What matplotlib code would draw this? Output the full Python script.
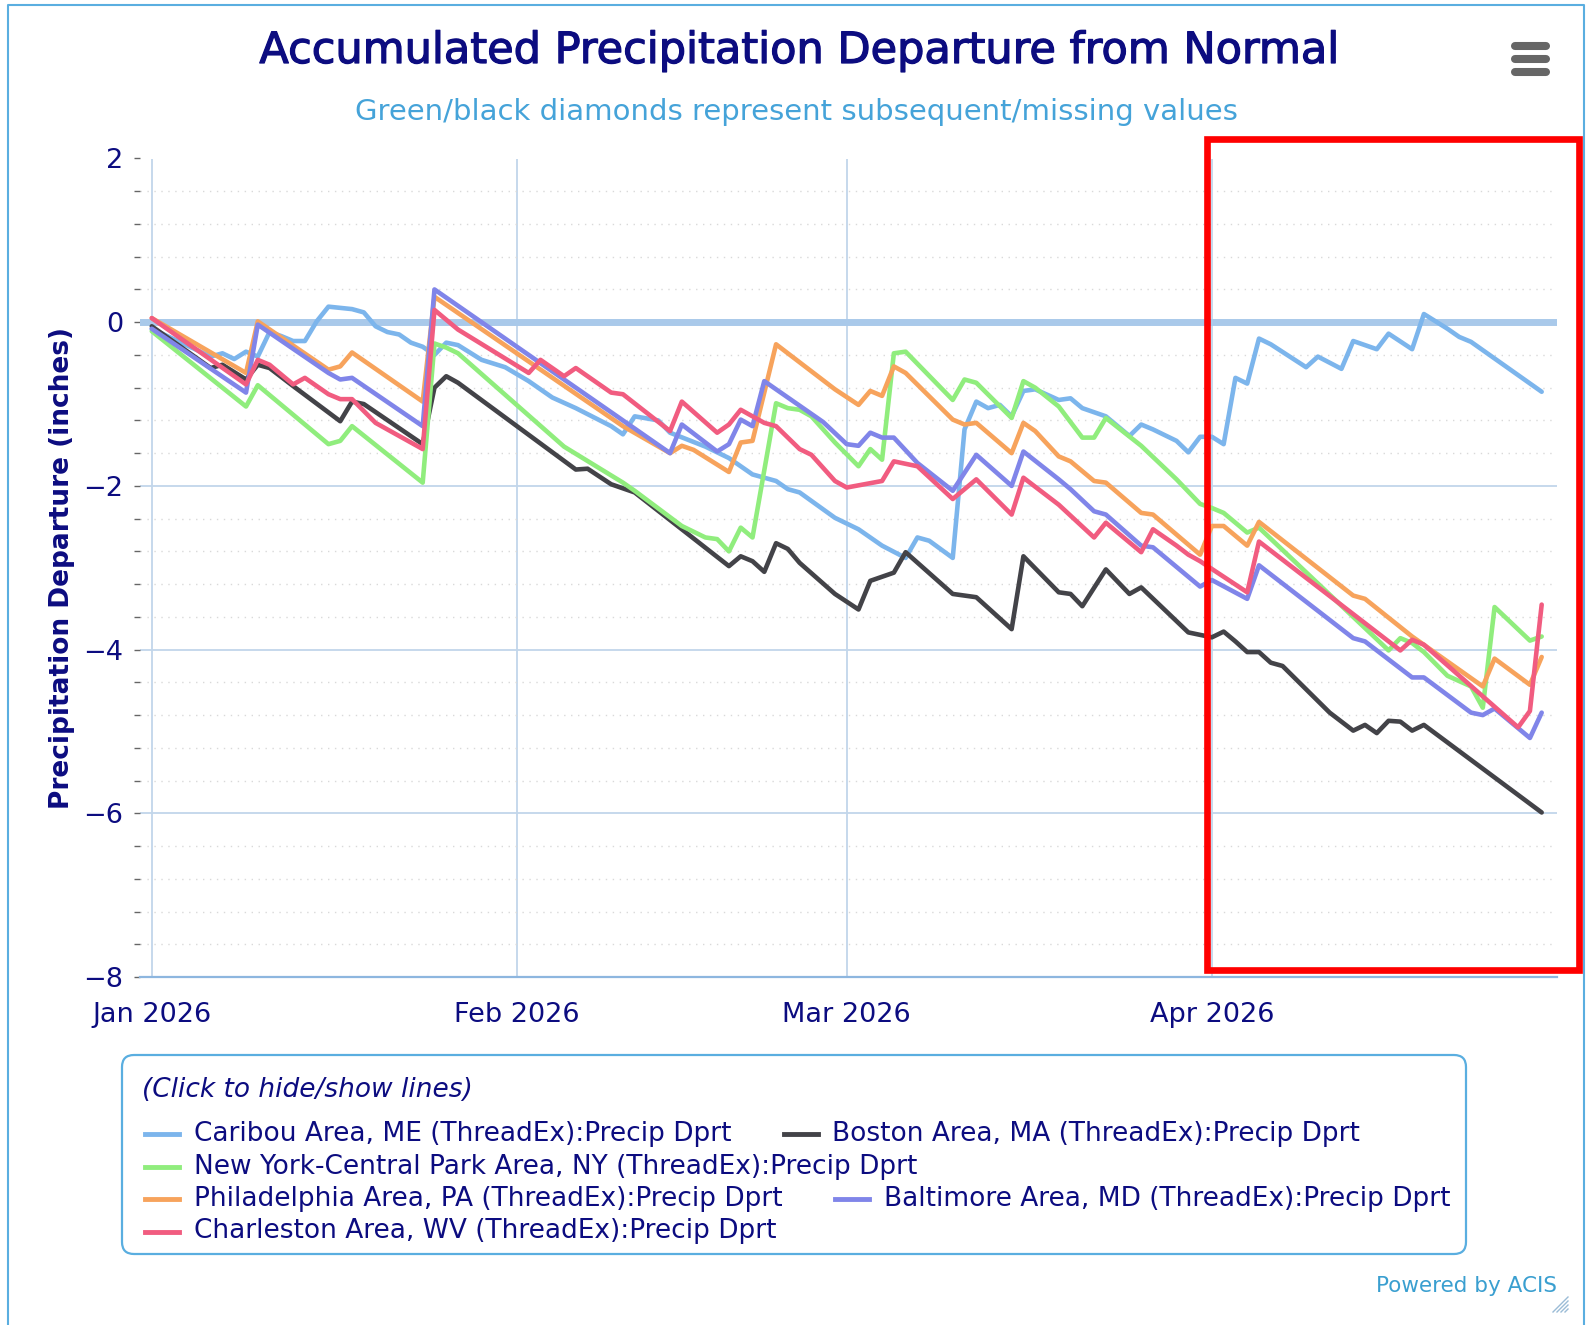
import numpy as np
import matplotlib
matplotlib.use("Agg")
import matplotlib.pyplot as plt
import matplotlib.dates as mdates
import matplotlib.transforms as mtransforms
import matplotlib.patheffects as pe
from matplotlib.lines import Line2D
from matplotlib.patches import Rectangle, FancyBboxPatch
from matplotlib.ticker import MultipleLocator

# --- data: accumulated departure (inches), vertices ---
START = np.datetime64("2026-01-01")

CARIBOU_DAY = [0, 5, 6, 7, 8, 9, 10, 11, 12, 13, 14, 15, 17, 18, 19, 20, 21, 22, 23, 24,
               25, 26, 28, 30, 32, 34, 36, 39, 40, 41, 43, 44, 47, 49, 51, 53, 54, 55, 58, 60,
               62, 64, 65, 66, 68, 69, 70, 71, 72, 73, 74, 75, 77, 78, 79, 81, 83, 84, 85, 87,
               88, 89, 90, 91, 92, 93, 94, 95, 98, 99, 101, 102, 104, 105, 107, 108, 110, 111, 112, 118]
CARIBOU = [-0.08, -0.42, -0.38, -0.45, -0.36, -0.42, -0.12, -0.17, -0.23, -0.23,
           0.01, 0.19, 0.16, 0.12, -0.05, -0.12, -0.15, -0.25, -0.30, -0.40,
           -0.25, -0.28, -0.46, -0.55, -0.72, -0.92, -1.05, -1.27, -1.37, -1.15,
           -1.20, -1.35, -1.52, -1.66, -1.86, -1.94, -2.04, -2.08, -2.39, -2.53,
           -2.73, -2.88, -2.63, -2.67, -2.88, -1.31, -0.97, -1.05, -1.01, -1.15,
           -0.84, -0.82, -0.95, -0.93, -1.05, -1.15, -1.39, -1.25, -1.31, -1.45,
           -1.59, -1.40, -1.40, -1.49, -0.68, -0.75, -0.20, -0.27, -0.55, -0.42,
           -0.57, -0.23, -0.33, -0.14, -0.33, 0.10, -0.08, -0.18, -0.24, -0.85]

BOSTON_DAY = [0, 5, 6, 8, 9, 10, 12, 16, 17, 18, 23, 24, 25, 26, 36, 37, 39, 41, 49, 50,
              51, 52, 53, 54, 55, 58, 60, 61, 63, 64, 68, 70, 73, 74, 77, 78, 79, 81, 83, 84,
              88, 89, 90, 91, 92, 93, 94, 95, 96, 100, 102, 103, 104, 105, 106, 107, 108, 118]
BOSTON = [-0.05, -0.56, -0.52, -0.70, -0.52, -0.56, -0.78, -1.21, -0.97, -1.00,
          -1.49, -0.80, -0.66, -0.74, -1.80, -1.79, -1.98, -2.08, -2.98, -2.86,
          -2.92, -3.05, -2.70, -2.77, -2.94, -3.32, -3.51, -3.16, -3.06, -2.81,
          -3.32, -3.36, -3.75, -2.86, -3.30, -3.32, -3.47, -3.02, -3.32, -3.24,
          -3.79, -3.82, -3.85, -3.78, -3.90, -4.03, -4.03, -4.16, -4.20, -4.77,
          -4.99, -4.92, -5.02, -4.87, -4.88, -4.99, -4.92, -5.99]

NYC_DAY = [0, 8, 9, 15, 16, 17, 23, 24, 25, 26, 35, 40, 41, 45, 47, 48, 49, 50, 51, 53,
           54, 55, 56, 58, 60, 61, 62, 63, 64, 68, 69, 70, 73, 74, 75, 77, 79, 80, 81, 84,
           87, 89, 90, 91, 93, 94, 105, 106, 107, 108, 110, 112, 113, 114, 117, 118]
NYC = [-0.11, -1.03, -0.77, -1.49, -1.45, -1.27, -1.96, -0.26, -0.31, -0.38,
       -1.52, -1.96, -2.06, -2.49, -2.63, -2.65, -2.80, -2.51, -2.63, -0.99,
       -1.05, -1.07, -1.15, -1.47, -1.76, -1.55, -1.68, -0.38, -0.36, -0.95,
       -0.70, -0.74, -1.17, -0.72, -0.80, -1.03, -1.41, -1.41, -1.17, -1.51,
       -1.92, -2.22, -2.27, -2.33, -2.57, -2.51, -4.01, -3.86, -3.92, -4.03,
       -4.32, -4.45, -4.71, -3.48, -3.89, -3.84]

PHL_DAY = [0, 8, 9, 15, 16, 17, 23, 24, 40, 44, 45, 46, 49, 50, 51, 53, 58, 60, 61, 62,
           63, 64, 68, 69, 70, 73, 74, 75, 77, 78, 80, 81, 84, 85, 89, 90, 91, 93, 94, 102,
           103, 107, 113, 114, 117, 118]
PHL = [0.05, -0.62, 0.01, -0.58, -0.54, -0.37, -0.97, 0.31, -1.27, -1.60,
       -1.51, -1.56, -1.83, -1.47, -1.45, -0.27, -0.82, -1.01, -0.84, -0.90,
       -0.54, -0.62, -1.19, -1.25, -1.23, -1.60, -1.23, -1.33, -1.64, -1.70,
       -1.94, -1.96, -2.33, -2.35, -2.84, -2.49, -2.49, -2.73, -2.44, -3.34,
       -3.38, -3.84, -4.45, -4.11, -4.43, -4.09]

BAL_DAY = [0, 8, 9, 15, 16, 17, 23, 24, 44, 45, 48, 49, 50, 51, 52, 57, 59, 60, 61, 62,
           63, 65, 68, 70, 73, 74, 77, 78, 80, 81, 84, 85, 89, 90, 93, 94, 102, 103, 107, 108,
           112, 113, 114, 117, 118]
BAL = [-0.08, -0.86, -0.03, -0.62, -0.70, -0.68, -1.27, 0.40, -1.60, -1.25,
       -1.58, -1.49, -1.19, -1.27, -0.72, -1.22, -1.49, -1.51, -1.35, -1.41,
       -1.41, -1.72, -2.06, -1.62, -2.00, -1.58, -1.92, -2.04, -2.31, -2.35,
       -2.73, -2.75, -3.23, -3.15, -3.38, -2.97, -3.86, -3.90, -4.34, -4.34,
       -4.77, -4.80, -4.72, -5.08, -4.77]

CHS_DAY = [0, 8, 9, 10, 12, 13, 15, 16, 17, 19, 23, 24, 26, 32, 33, 35, 36, 39, 40, 44,
           45, 48, 49, 50, 52, 53, 55, 56, 58, 59, 62, 63, 65, 68, 70, 73, 74, 77, 80, 81,
           84, 85, 87, 88, 89, 93, 94, 106, 107, 108, 116, 117, 118]
CHS = [0.05, -0.76, -0.46, -0.52, -0.76, -0.68, -0.88, -0.94, -0.94, -1.23,
       -1.55, 0.15, -0.09, -0.62, -0.46, -0.66, -0.56, -0.86, -0.88, -1.33,
       -0.97, -1.35, -1.25, -1.07, -1.23, -1.27, -1.55, -1.62, -1.94, -2.02,
       -1.94, -1.70, -1.76, -2.16, -1.92, -2.35, -1.90, -2.23, -2.63, -2.45,
       -2.81, -2.53, -2.73, -2.84, -2.92, -3.30, -2.68, -4.01, -3.88, -3.94,
       -4.95, -4.75, -3.45]

NAMES = ["Caribou Area, ME (ThreadEx):Precip Dprt",
         "Boston Area, MA (ThreadEx):Precip Dprt",
         "New York-Central Park Area, NY (ThreadEx):Precip Dprt",
         "Philadelphia Area, PA (ThreadEx):Precip Dprt",
         "Baltimore Area, MD (ThreadEx):Precip Dprt",
         "Charleston Area, WV (ThreadEx):Precip Dprt"]
COLORS = ["#7cb5ec", "#434348", "#90ed7d", "#f7a35c", "#8085e9", "#f15c80"]

TITLE = "Accumulated Precipitation Departure from Normal"
SUBTITLE = "Green/black diamonds represent subsequent/missing values"

# --- figure ---
W, H = 1596, 1325
NAVY = "#0c0c80"
plt.rcParams["font.family"] = ["DejaVu Sans"]

fig = plt.figure(figsize=(W / 100, H / 100), dpi=100)
# pixel coordinates, y measured from the top
px = mtransforms.Affine2D().scale(1 / W, -1 / H).translate(0, 1) + fig.transFigure

ax = fig.add_axes([140 / W, 1 - 977 / H, (1557 - 140) / W, (977 - 158.5) / H])

series = [(CARIBOU_DAY, CARIBOU), (BOSTON_DAY, BOSTON), (NYC_DAY, NYC),
          (PHL_DAY, PHL), (BAL_DAY, BAL), (CHS_DAY, CHS)]
for (days, vals), color in zip(series, COLORS):
    dates = START + np.array(days).astype("timedelta64[D]")
    ax.plot(dates, vals, color=color, lw=3.3, solid_joinstyle="round",
            solid_capstyle="round", zorder=3)

d0 = mdates.date2num(START)
ax.set_xlim(d0 - 1.0, d0 + 119.3)
ax.set_ylim(-8, 2)
ax.xaxis.set_major_locator(mdates.MonthLocator())
ax.xaxis.set_major_formatter(mdates.DateFormatter("%b %Y"))
ax.yaxis.set_major_locator(MultipleLocator(2))
ax.yaxis.set_minor_locator(MultipleLocator(0.4))

ax.set_axisbelow(True)
ax.grid(which="major", axis="both", color="#c2d6ea", lw=1.3)
ax.grid(which="minor", axis="y", color="#d9d9d9", lw=1.0, ls=(0, (1, 4)))
ax.axhline(0, color="#a9c9ea", lw=5, zorder=2)

for s in ("left", "right", "top"):
    ax.spines[s].set_visible(False)
ax.spines["bottom"].set_color("#8db6df")
ax.spines["bottom"].set_linewidth(1.6)

ax.tick_params(axis="x", length=0, pad=18, labelsize=19.5, labelcolor=NAVY)
ax.tick_params(axis="y", which="major", length=4, width=1, color="#666666",
               pad=8, labelsize=19.5, labelcolor=NAVY)
ax.tick_params(axis="y", which="minor", length=4, width=1, color="#666666")

ax.set_ylabel("Precipitation Departure (inches)", fontsize=19, fontweight="bold",
              color=NAVY)
ax.yaxis.set_label_coords(-0.046, 0.5)

# titles
fig.text(798 / W, 1 - 51 / H, TITLE, ha="center", va="center", fontsize=31, color=NAVY,
         path_effects=[pe.withStroke(linewidth=0.9, foreground=NAVY)])
fig.text(796 / W, 1 - 112 / H, SUBTITLE, ha="center", va="center", fontsize=21,
         color="#45a3d9")

# legend box (Highcharts flows items, so place them by hand)
fig.patches.append(FancyBboxPatch((122, 1055), 1344, 199,
                                  boxstyle="round,pad=0,rounding_size=12",
                                  fc="none", ec="#5aaee0", lw=1.6, transform=px))
fig.text(142.5 / W, 1 - 1090 / H, "(Click to hide/show lines)", ha="left", va="center",
         fontsize=19, style="italic", color=NAVY)
legend_slots = [(142.5, 1134), (781.5, 1134), (142.5, 1166.5),
                (142.5, 1199), (832.5, 1199), (142.5, 1231.5)]
for (x, y), name, color in zip(legend_slots, NAMES, COLORS):
    fig.lines.append(Line2D([x + 2, x + 36], [y, y], color=color, lw=3.5, transform=px))
    fig.text((x + 51) / W, 1 - y / H, name, ha="left", va="center", fontsize=19,
             color=NAVY)

# highlight box
fig.patches.append(Rectangle((1207, 139), 372, 831, fill=False, ec="#ff0000", lw=4.8,
                             transform=px, zorder=10))

# hamburger menu
for yy in (46, 59, 72):
    fig.lines.append(Line2D([1515, 1546], [yy, yy], color="#666666", lw=5.8,
                            solid_capstyle="round", transform=px))

# outer container frame
fig.lines.append(Line2D([8, 8, 1584, 1584], [H + 5, 5, 5, H + 5], color="#5aaee0",
                        lw=1.5, transform=px))

fig.text(1557 / W, 1 - 1286 / H, "Powered by ACIS", ha="right", va="center",
         fontsize=15.5, color="#3a9fd0")
for k in range(4):
    fig.lines.append(Line2D([1553 + 4 * k, 1568], [1312, 1297 + 4 * k], color="#9bbcd6",
                            lw=1, transform=px))

fig.savefig("out.png", dpi=100, facecolor="white")
